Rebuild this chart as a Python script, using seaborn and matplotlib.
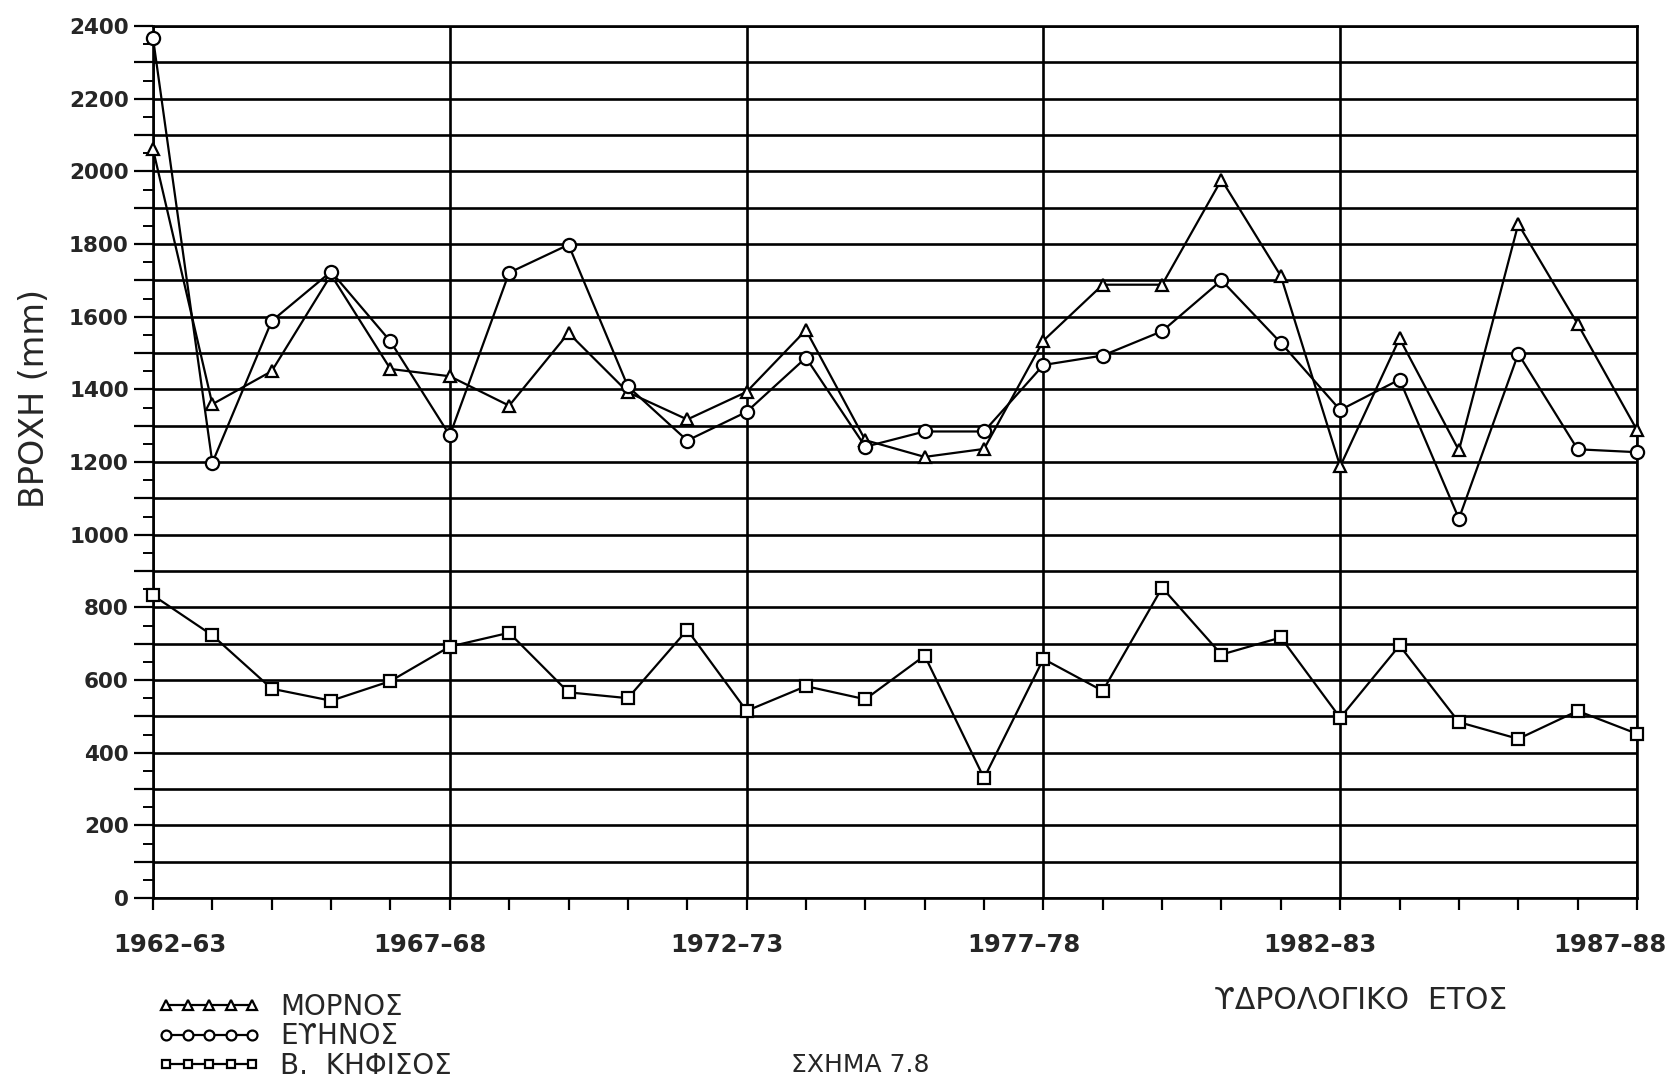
import matplotlib
matplotlib.use("Agg")
import matplotlib.pyplot as plt
from matplotlib.ticker import MultipleLocator, FuncFormatter
from matplotlib.transforms import ScaledTranslation
import seaborn as sns
import pandas as pd
import numpy as np

years = ["1962–63", "1963–64", "1964–65", "1965–66", "1966–67", "1967–68", "1968–69",
         "1969–70", "1970–71", "1971–72", "1972–73", "1973–74", "1974–75", "1975–76",
         "1976–77", "1977–78", "1978–79", "1979–80", "1980–81", "1981–82", "1982–83",
         "1983–84", "1984–85", "1985–86", "1986–87", "1987–88"]

mornos = [2061, 1359, 1450, 1715, 1456, 1436, 1355, 1555, 1392, 1317, 1393, 1563, 1260,
          1214, 1236, 1534, 1688, 1688, 1977, 1712, 1188, 1540, 1232, 1855, 1580, 1288]
evinos = [2367, 1198, 1588, 1724, 1532, 1273, 1721, 1798, 1408, 1259, 1338, 1487, 1242,
          1284, 1284, 1467, 1493, 1560, 1700, 1528, 1343, 1427, 1044, 1498, 1235, 1227]
kifisos = [833, 723, 576, 543, 597, 692, 730, 566, 550, 738, 515, 583, 547,
           667, 330, 658, 570, 854, 670, 717, 496, 695, 484, 438, 515, 452]

series_names = ["ΜΟΡΝΟΣ", "ΕϒΗΝΟΣ", "Β.  ΚΗΦΙΣΟΣ"]
markers = ["^", "o", "s"]
marker_sizes = [9, 9.5, 8]

sns.set_style("white")
plt.rcParams["font.family"] = ["DejaVu Sans"]

fig = plt.figure(figsize=(16.76, 10.85), dpi=100)
ax = fig.add_axes([153 / 1676, 1 - 898 / 1085, 1484 / 1676, (898 - 26) / 1085])

xpos = np.arange(len(years))
for name, vals, mk, ms in zip(series_names, [mornos, evinos, kifisos], markers, marker_sizes):
    df = pd.DataFrame({"x": xpos, "y": vals})
    sns.lineplot(data=df, x="x", y="y", ax=ax, color="black", linewidth=1.6,
                 marker=mk, markersize=ms, markerfacecolor="white",
                 markeredgecolor="black", markeredgewidth=1.6, label=name,
                 clip_on=False, zorder=5)

ax.set_xlim(0, len(years) - 1)
ax.set_ylim(0, 2400)

ax.xaxis.set_major_locator(MultipleLocator(5))
ax.xaxis.set_minor_locator(MultipleLocator(1))
ax.xaxis.set_major_formatter(FuncFormatter(lambda v, p: years[int(round(v))] if 0 <= int(round(v)) < len(years) else ""))
ax.yaxis.set_major_locator(MultipleLocator(100))
ax.yaxis.set_minor_locator(MultipleLocator(50))
ax.yaxis.set_major_formatter(FuncFormatter(lambda v, p: f"{int(v)}" if int(v) % 200 == 0 else ""))

ax.tick_params(axis="x", which="both", direction="out", length=8.5, width=1.6, color="black",
               bottom=True, labelsize=17.5, pad=17)
ax.tick_params(axis="y", which="major", direction="out", length=13.5, width=1.6, color="black",
               left=True, labelsize=15.5, pad=4)
ax.tick_params(axis="y", which="minor", direction="out", length=7, width=1.4, color="black", left=True)
for lab in ax.get_xticklabels() + ax.get_yticklabels():
    lab.set_fontweight("bold")

# horizontal shifts of the x tick labels as printed in the original
locs = ax.xaxis.get_majorticklocs()
xticks = ax.xaxis.get_major_ticks(len(locs))
last = len(years) - 1
for loc, t in zip(locs, xticks):
    k = int(round(loc))
    if k == 0:
        dx = 17
    elif k == last:
        dx = -27
    else:
        dx = -20
    lab = t.label1
    lab.set_transform(lab.get_transform() + ScaledTranslation(dx / 100, 0, fig.dpi_scale_trans))

ax.grid(True, axis="y", which="major", color="black", linewidth=1.9)
ax.grid(True, axis="x", which="major", color="black", linewidth=1.9)
ax.set_axisbelow(True)
for sp in ax.spines.values():
    sp.set_visible(True)
    sp.set_color("black")
    sp.set_linewidth(1.9)

ax.set_ylabel("ΒΡΟΧΗ (mm)", fontsize=24)
ax.yaxis.set_label_coords(-0.069, 0.573)
ax.set_xlabel("ϒΔΡΟΛΟΓΙΚΟ  ΕΤΟΣ", fontsize=21.5)
ax.xaxis.set_label_coords(0.814, -0.101)

handles, labels = ax.get_legend_handles_labels()
ax.get_legend().remove()
fig.legend(handles, labels, loc="upper left", bbox_to_anchor=(158 / 1676, 1 - 993 / 1085),
           frameon=False, fontsize=20, numpoints=5, handlelength=3.7, handletextpad=0.7,
           labelspacing=0.05, borderpad=0, borderaxespad=0, markerscale=0.75)

fig.text(860 / 1676, 1 - 1065 / 1085, "ΣΧΗΜΑ 7.8", ha="center", va="center", fontsize=18)

fig.savefig("out.png", dpi=100, facecolor="white")
